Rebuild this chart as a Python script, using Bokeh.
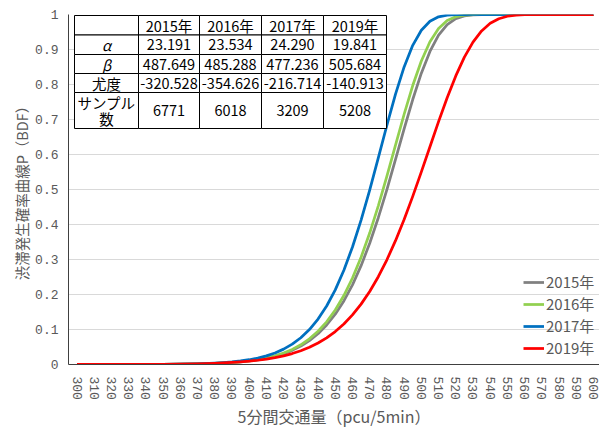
from bokeh.plotting import figure
from bokeh.models import (FixedTicker, NumeralTickFormatter, Legend, LegendItem,
                          ColumnDataSource, Range1d)
from bokeh.core.properties import value
from bokeh.embed import file_html
from bokeh.resources import INLINE

# ---------------- data ----------------
flow = [300, 310, 320, 330, 340, 350, 360, 370, 380, 385, 390, 395, 400, 405, 410,
        415, 420, 425, 430, 435, 440, 445, 450, 455, 460, 465, 470, 475, 480, 485,
        490, 495, 500, 505, 510, 515, 520, 525, 530, 535, 540, 545, 550, 555, 560,
        570, 580, 590, 600]

p2015 = [0.00001, 0.00003, 0.00006, 0.00012, 0.00023, 0.00046, 0.00088, 0.00166,
         0.00307, 0.00416, 0.00560, 0.00752, 0.01005, 0.01339, 0.01775, 0.02345,
         0.03084, 0.04038, 0.05262, 0.06824, 0.08802, 0.11285, 0.14371, 0.18166,
         0.22761, 0.28247, 0.34644, 0.41937, 0.49991, 0.58578, 0.67307, 0.75704,
         0.83240, 0.89455, 0.94082, 0.97113, 0.98815, 0.99607, 0.99899, 0.99981,
         0.99997, 1.0, 1.0, 1.0, 1.0, 1.0, 1.0, 1.0, 1.0]

p2016 = [0.00001, 0.00003, 0.00005, 0.00011, 0.00023, 0.00046, 0.00089, 0.00169,
         0.00316, 0.00430, 0.00581, 0.00784, 0.01053, 0.01408, 0.01874, 0.02486,
         0.03281, 0.04312, 0.05638, 0.07336, 0.09489, 0.12197, 0.15566, 0.19701,
         0.24709, 0.30654, 0.37549, 0.45336, 0.53823, 0.62697, 0.71501, 0.79693,
         0.86730, 0.92209, 0.95997, 0.98256, 0.99380, 0.99828, 0.99965, 0.99995,
         1.0, 1.0, 1.0, 1.0, 1.0, 1.0, 1.0, 1.0, 1.0]

p2017 = [0.00001, 0.00003, 0.00006, 0.00013, 0.00026, 0.00054, 0.00106, 0.00206,
         0.00394, 0.00541, 0.00740, 0.01007, 0.01364, 0.01839, 0.02470, 0.03301,
         0.04391, 0.05810, 0.07644, 0.09996, 0.12978, 0.16715, 0.21332, 0.26934,
         0.33580, 0.41264, 0.49841, 0.59025, 0.68356, 0.77236, 0.85022, 0.91194,
         0.95501, 0.98074, 0.99338, 0.99827, 0.99968, 0.99996, 1.0, 1.0,
         1.0, 1.0, 1.0, 1.0, 1.0, 1.0, 1.0, 1.0, 1.0]

p2019 = [0.00003, 0.00006, 0.00011, 0.00021, 0.00038, 0.00067, 0.00118, 0.00203,
         0.00344, 0.00446, 0.00576, 0.00741, 0.00950, 0.01214, 0.01546, 0.01962,
         0.02482, 0.03129, 0.03930, 0.04917, 0.06129, 0.07610, 0.09407, 0.11576,
         0.14169, 0.17249, 0.20874, 0.25085, 0.29918, 0.35385, 0.41445, 0.48038,
         0.55027, 0.62224, 0.69383, 0.76225, 0.82449, 0.87803, 0.92105, 0.95308,
         0.97476, 0.98794, 0.99498, 0.99823, 0.99948, 0.99998, 1.0, 1.0, 1.0]

series_names = ["2015年", "2016年", "2017年", "2019年"]
series_colors = ["#808080", "#92D050", "#0070C0", "#FF0000"]

x_ticks = [300, 310, 320, 330, 340, 350, 360, 370, 380, 390, 400, 410, 420, 430,
           440, 450, 460, 470, 480, 490, 500, 510, 520, 530, 540, 550, 560, 570,
           580, 590, 600]
y_ticks = [0.0, 0.1, 0.2, 0.3, 0.4, 0.5, 0.6, 0.7, 0.8, 0.9, 1.0]

table_years = ["2015年", "2016年", "2017年", "2019年"]
row_labels = ["α", "β", "尤度", "サンプル\n数"]
alpha_vals = [23.191, 23.534, 24.290, 19.841]
beta_vals = [487.649, 485.288, 477.236, 505.684]
likelihood_vals = [-320.528, -354.626, -216.714, -140.913]
sample_vals = [6771, 6018, 3209, 5208]

x_label = "5分間交通量（pcu/5min）"
y_label = "渋滞発生確率曲線P（BDF）"

# ---------------- layout ----------------
FRAME_W, FRAME_H = 531, 350
X0, X1 = 295.06, 603.48
Y0, Y1 = 0.0, 1.0

CJK = "Noto Sans CJK JP"
MONO = "Liberation Mono"
GRAY = "#595959"

p = figure(frame_width=FRAME_W, frame_height=FRAME_H,
           x_range=Range1d(X0, X1), y_range=Range1d(Y0, Y1),
           output_backend="svg", toolbar_location=None,
           min_border_left=68, min_border_right=0, min_border_top=14,
           min_border_bottom=54)
p.outline_line_color = None
p.background_fill_color = "white"
p.border_fill_color = "white"

# axes
p.xaxis.ticker = FixedTicker(ticks=x_ticks)
p.yaxis.ticker = FixedTicker(ticks=y_ticks)
p.yaxis.formatter = NumeralTickFormatter(format="0.[0]")
p.xaxis.major_label_orientation = "vertical"
for ax in (p.xaxis, p.yaxis):
    ax.axis_line_color = "#404040"
    ax.axis_line_width = 1
    ax.major_tick_line_color = None
    ax.minor_tick_line_color = None
    ax.major_label_text_font = MONO
    ax.major_label_text_font_size = "13px"
    ax.major_label_text_color = GRAY
    ax.axis_label_text_font = CJK
    ax.axis_label_text_color = GRAY
    ax.axis_label_text_font_style = "normal"
p.xaxis.axis_label_text_font_size = "16px"
p.yaxis.axis_label_text_font_size = "14.5px"
p.xaxis.major_label_standoff = 6
p.xaxis.axis_label_standoff = 1
p.yaxis.major_label_standoff = 4
p.yaxis.axis_label_standoff = 0
p.xaxis.axis_label = x_label
p.yaxis.axis_label = y_label

p.xgrid.visible = False
p.ygrid.ticker = FixedTicker(ticks=y_ticks)
p.ygrid.grid_line_color = "#D9D9D9"
p.ygrid.grid_line_width = 1

# curves
src = ColumnDataSource(dict(flow=flow, y2015=p2015, y2016=p2016, y2017=p2017, y2019=p2019))
cols = ["y2015", "y2016", "y2017", "y2019"]
items = []
for col, name, color in zip(cols, series_names, series_colors):
    r = p.line("flow", col, source=src, line_color=color, line_width=2.75,
               line_join="round")
    items.append(LegendItem(label=name, renderers=[r]))

legend = Legend(items=items, location=(455, 6))
legend.label_text_font = CJK
legend.label_text_font_size = "15px"
legend.label_text_color = GRAY
legend.glyph_width = 21
legend.glyph_height = 20
legend.label_height = 20
legend.label_standoff = 2
legend.spacing = 1
legend.padding = 0
legend.margin = 0
legend.border_line_color = None
legend.background_fill_alpha = 0
p.add_layout(legend)

# table (positions in pixels relative to the frame's top-left corner)
col_edges_px = [6, 70, 131, 193, 255, 318]
row_edges_px = [1, 20.5, 40, 59, 78, 114]


def dx(px):
    return X0 + px * (X1 - X0) / FRAME_W


def dy(py):
    return Y1 - py * (Y1 - Y0) / FRAME_H


cl, cr, ct, cb = [], [], [], []
for i in range(len(row_edges_px) - 1):
    for j in range(len(col_edges_px) - 1):
        cl.append(dx(col_edges_px[j]))
        cr.append(dx(col_edges_px[j + 1]))
        ct.append(dy(row_edges_px[i]))
        cb.append(dy(row_edges_px[i + 1]))
p.quad(left=cl, right=cr, top=ct, bottom=cb, fill_color="white",
       line_color="#000000", line_width=1)

col_cx = [dx((col_edges_px[j] + col_edges_px[j + 1]) / 2) for j in range(5)]
row_cy = [dy((row_edges_px[i] + row_edges_px[i + 1]) / 2) for i in range(5)]

tx, ty, tt = [], [], []
for j, yr in enumerate(table_years):
    tx.append(col_cx[j + 1]); ty.append(row_cy[0]); tt.append(yr)
rows_vals = [["%.3f" % v for v in alpha_vals],
             ["%.3f" % v for v in beta_vals],
             ["%.3f" % v for v in likelihood_vals],
             ["%d" % v for v in sample_vals]]
for i, rv in enumerate(rows_vals):
    for j, s in enumerate(rv):
        tx.append(col_cx[j + 1]); ty.append(row_cy[i + 1]); tt.append(s)
# non-italic row labels
for i in (2, 3):
    tx.append(col_cx[0]); ty.append(row_cy[i + 1]); tt.append(row_labels[i])

p.text(x=tx, y=ty, text=tt, text_align="center", text_baseline="middle",
       text_font=value(CJK), text_font_size="14.5px", text_color="#000000",
       text_line_height=0.8)
# italic greek labels
p.text(x=[col_cx[0], col_cx[0]], y=[row_cy[1], row_cy[2]], text=row_labels[:2],
       text_align="center", text_baseline="middle", text_font=value(CJK),
       text_font_size="14.5px", text_font_style="italic", text_color="#000000")

open("out.html", "w").write(file_html(p, INLINE))
